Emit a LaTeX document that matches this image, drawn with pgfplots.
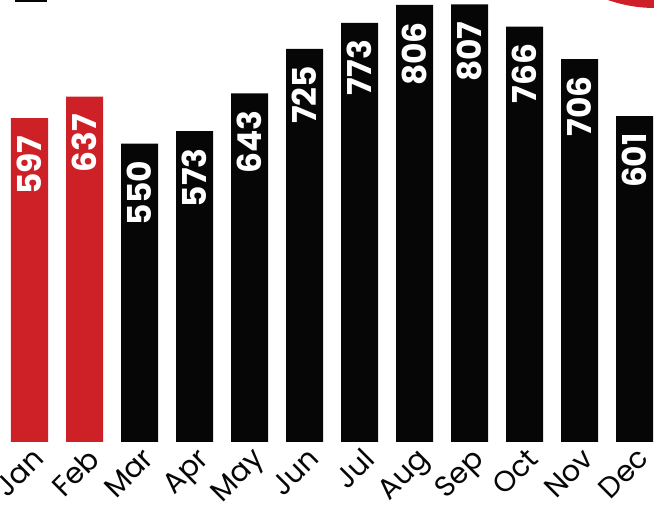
\documentclass[border=0pt]{standalone}
\usepackage{fontspec}
\setmainfont{Poppins}
\usepackage{pgfplots}
\pgfplotsset{compat=1.18}
\definecolor{barred}{RGB}{206,32,39}
\definecolor{barblack}{RGB}{6,6,6}

\begin{document}
\begin{tikzpicture}[x=1bp,y=1bp]
\useasboundingbox (0,0) rectangle (654,508);
% bits of neighbouring artwork cut by the crop
\fill[barred] (655,642) circle (142);
\fill[barblack] (15,506) rectangle (47,508);
\begin{axis}[
  at={(29.5bp,66bp)}, anchor=origin,
  scale only axis, width=654bp, height=442bp,
  xmin=-0.536, xmax=11.355,
  ymin=0, ymax=815,
  clip=false,
  axis line style={draw=none},
  major tick length=0pt,
  ytick=\empty,
  xtick={0,...,11},
  xticklabels={Jan,Feb,Mar,Apr,May,Jun,Jul,Aug,Sep,Oct,Nov,Dec},
  xticklabel style={xshift=1.5bp, yshift=-4bp, rotate=45, anchor=north east,
    inner sep=0pt, font=\fontsize{29}{29}\selectfont, text=barblack},
  /pgf/number format/assume math mode=true,
  every node near coord/.append style={rotate=90, anchor=east,
    inner xsep=17bp, inner ysep=0pt, text=white,
    font=\fontsize{33}{33}\selectfont\bfseries},
]
\addplot[ybar, fill=barred, draw=none, bar width=37bp, bar shift=0pt,
  nodes near coords]
  coordinates {(0,597) (1,637)};
\addplot[ybar, fill=barblack, draw=none, bar width=37bp, bar shift=0pt,
  nodes near coords]
  coordinates {(2,550) (3,573) (4,643) (5,725) (6,773) (7,806)
               (8,807) (9,766) (10,706) (11,601)};
\end{axis}
\end{tikzpicture}
\end{document}
